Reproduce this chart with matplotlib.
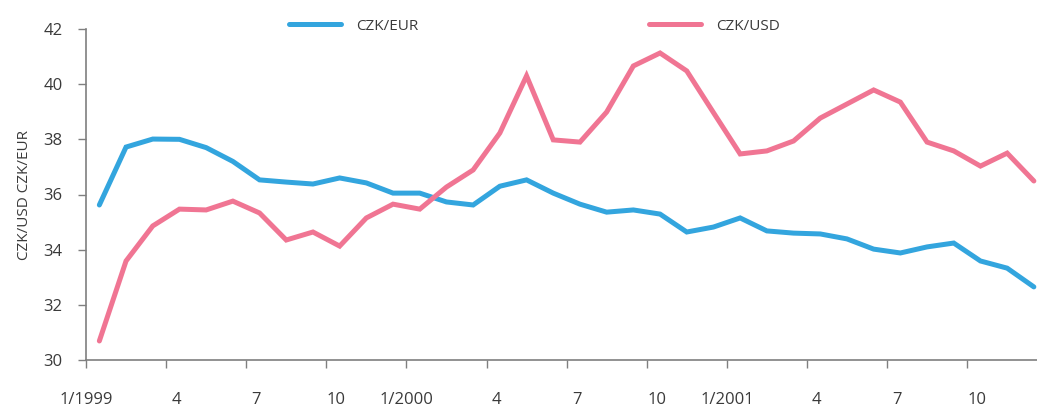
import matplotlib.pyplot as plt
import numpy as np

# monthly averages, 1/1999 .. 12/2001
czk_eur = [35.62, 37.72, 38.01, 38.0, 37.7, 37.2, 36.53, 36.45, 36.38, 36.6,
           36.42, 36.05, 36.05, 35.73, 35.62, 36.3, 36.53, 36.05, 35.65, 35.36,
           35.44, 35.29, 34.64, 34.82, 35.15, 34.68, 34.6, 34.57, 34.39, 34.02,
           33.88, 34.1, 34.24, 33.59, 33.33, 32.65]
czk_usd = [30.69, 33.59, 34.86, 35.47, 35.44, 35.76, 35.33, 34.35, 34.64, 34.13,
           35.15, 35.65, 35.47, 36.27, 36.89, 38.23, 40.3, 37.98, 37.9, 38.99,
           40.66, 41.13, 40.48, 38.97, 37.47, 37.58, 37.94, 38.77, 39.28, 39.79,
           39.35, 37.9, 37.58, 37.03, 37.5, 36.49]
tick_labels = ['1/1999', '4', '7', '10', '1/2000', '4', '7', '10',
               '1/2001', '4', '7', '10']

blue = '#33a5de'
pink = '#f07593'
text_col = '#3a3a3a'
axis_col = '#7f7f7f'

plt.rcParams['font.family'] = ['Open Sans', 'DejaVu Sans']

fig = plt.figure(figsize=(10.37, 4.07), dpi=100)
ax = fig.add_axes([86 / 1037, 47 / 407, 951 / 1037, 331 / 407])

x = np.arange(len(czk_eur))
ax.plot(x, czk_eur, color=blue, lw=3.6, solid_capstyle='round',
        solid_joinstyle='miter', label='CZK/EUR')
ax.plot(x, czk_usd, color=pink, lw=3.6, solid_capstyle='round',
        solid_joinstyle='miter', label='CZK/USD')

ax.set_xlim(-0.5, -0.5 + 951 / 26.7)
ax.set_ylim(30, 42)
ax.set_yticks(np.arange(30, 43, 2))

# tick marks between months, labels nudged like the original
tick_pos = np.arange(len(tick_labels)) * 3 - 0.5
ax.set_xticks(tick_pos)
ax.set_xticklabels([])
label_pos = [p + 0.01 if '/' in t else p + 0.375
             for p, t in zip(tick_pos, tick_labels)]
ax.set_xticks(label_pos, minor=True)
ax.set_xticklabels(tick_labels, minor=True)
ax.tick_params(axis='x', which='minor', length=0, pad=23, labelsize=12,
               labelcolor=text_col)
ax.tick_params(axis='x', which='major', length=6, width=1, color=axis_col,
               direction='out')
ax.tick_params(axis='y', length=6, width=1, color=axis_col, pad=11,
               labelsize=12, labelcolor=text_col)

for side in ['top', 'right']:
    ax.spines[side].set_visible(False)
for side in ['left', 'bottom']:
    ax.spines[side].set_color(axis_col)
    ax.spines[side].set_linewidth(1.2)

ax.set_ylabel('CZK/USD CZK/EUR', fontsize=11, color=text_col, labelpad=8)

ax.legend(loc='center left', bbox_to_anchor=(203 / 951, 1.0085), ncol=2,
          frameon=False, fontsize=11, handlelength=3.4, handletextpad=1.0,
          columnspacing=15.1, borderaxespad=0, borderpad=0, labelcolor=text_col)

fig.savefig('out.png', dpi=100)
